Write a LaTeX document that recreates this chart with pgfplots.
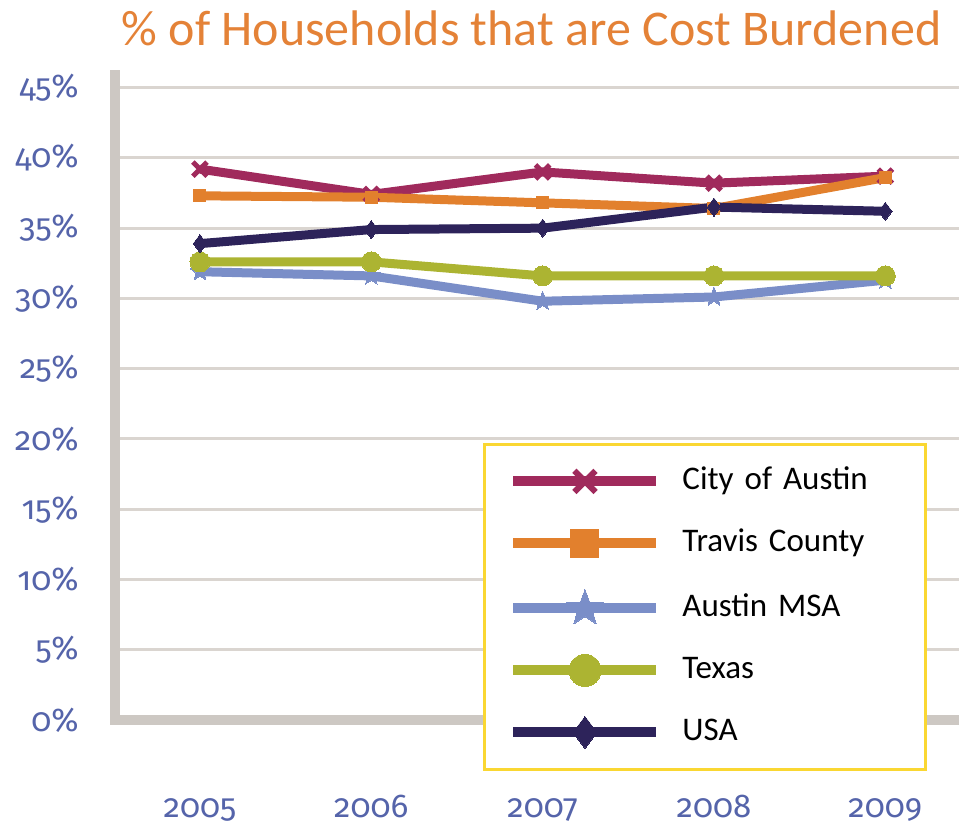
\documentclass[border=0pt]{standalone}
\usepackage{fontspec}
\setmainfont{Carlito}
\newfontfamily\numfont{Fira Sans}[Numbers=OldStyle]
\usepackage{pgfplots}
\pgfplotsset{compat=1.18}
\definecolor{cAustin}{RGB}{160,42,92}
\definecolor{cTravis}{RGB}{226,128,45}
\definecolor{cMSA}{RGB}{122,142,200}
\definecolor{cTexas}{RGB}{172,180,50}
\definecolor{cUSA}{RGB}{45,35,90}
\definecolor{titleorange}{RGB}{228,130,55}
\definecolor{tickblue}{RGB}{85,100,170}
\definecolor{axisgray}{RGB}{205,200,195}
\definecolor{gridgray}{RGB}{218,213,208}
\definecolor{legyellow}{RGB}{250,215,50}
\pgfdeclareplotmark{fstar}{%
  \pgfpathmoveto{\pgfpointpolar{90}{\pgfplotmarksize}}%
  \pgfpathlineto{\pgfpointpolar{126}{0.42\pgfplotmarksize}}%
  \pgfpathlineto{\pgfpointpolar{162}{\pgfplotmarksize}}%
  \pgfpathlineto{\pgfpointpolar{198}{0.42\pgfplotmarksize}}%
  \pgfpathlineto{\pgfpointpolar{234}{\pgfplotmarksize}}%
  \pgfpathlineto{\pgfpointpolar{270}{0.42\pgfplotmarksize}}%
  \pgfpathlineto{\pgfpointpolar{306}{\pgfplotmarksize}}%
  \pgfpathlineto{\pgfpointpolar{342}{0.42\pgfplotmarksize}}%
  \pgfpathlineto{\pgfpointpolar{18}{\pgfplotmarksize}}%
  \pgfpathlineto{\pgfpointpolar{54}{0.42\pgfplotmarksize}}%
  \pgfpathclose
  \pgfusepathqfillstroke}
\begin{document}
\begin{tikzpicture}[x=1pt,y=1pt]
\path[use as bounding box] (0,0) rectangle (479.5,414);
\begin{axis}[
  at={(57.5pt,54pt)}, anchor=south west,
  scale only axis, width=422pt, height=322.5pt,
  xmin=-0.496, xmax=4.43, ymin=0, ymax=45.9,
  axis x line=bottom, axis y line=left,
  axis line style={-, line width=5pt, color=axisgray, line cap=rect},
  xtick={0,1,2,3,4},
  xticklabels={2005,2006,2007,2008,2009},
  ytick={0,5,10,15,20,25,30,35,40,45},
  yticklabels={0\%,5\%,10\%,15\%,20\%,25\%,30\%,35\%,40\%,45\%},
  major tick length=0pt,
  ymajorgrids, grid style={line width=1.5pt, color=gridgray},
  tick label style={font=\numfont\fontsize{16.5}{19}\selectfont, text=tickblue, inner sep=0pt},
  yticklabel style={xshift=-18pt},
  xticklabel style={anchor=base, yshift=-49pt},
  every axis plot/.append style={line width=4.5pt, line join=round},
  legend image code/.code={\draw[mark repeat=2,mark phase=2,#1] plot coordinates {(0pt,0pt) (35.75pt,0pt) (71.5pt,0pt)};},
  legend style={at={(rel axis cs:0.436,0.4295)}, anchor=north west,
    draw=legyellow, line width=1.5pt, fill=white,
    inner xsep=12pt, inner ysep=10.5pt, row sep=15pt, column sep=10.5pt,
    font=\fontsize{16.5}{19}\selectfont,
    nodes={text height=12pt, text depth=4pt, inner sep=0pt, text width=109.5pt, align=left}},
  legend cell align=left,
  clip=false,
]
\addplot[cAustin, mark=x, mark size=5pt, mark options={line width=2.5pt}, forget plot]
  coordinates {(0,39.2) (1,37.4) (2,39.0) (3,38.2) (4,38.7)};
\addplot[cTravis, mark=square*, mark size=3pt, mark options={line width=0pt}, forget plot]
  coordinates {(0,37.3) (1,37.2) (2,36.8) (3,36.4) (4,38.6)};
\addplot[cMSA, mark=fstar, mark size=5pt, mark options={line width=0pt}, forget plot]
  coordinates {(0,31.9) (1,31.6) (2,29.8) (3,30.1) (4,31.3)};
\addplot[cTexas, mark=*, mark size=5pt, mark options={line width=0pt}, forget plot]
  coordinates {(0,32.6) (1,32.6) (2,31.6) (3,31.6) (4,31.6)};
\addplot[cUSA, mark=diamond*, mark size=4.5pt, mark options={line width=0pt}, forget plot]
  coordinates {(0,33.9) (1,34.9) (2,35.0) (3,36.5) (4,36.2)};
\addlegendimage{cAustin, line width=5pt, mark=x, mark size=7.5pt, mark options={line width=3pt}}
\addlegendentry{City of Austin}
\addlegendimage{cTravis, line width=5pt, mark=square*, mark size=7pt, mark options={line width=0pt}}
\addlegendentry{Travis County}
\addlegendimage{cMSA, line width=5pt, mark=fstar, mark size=9.5pt, mark options={line width=0pt}}
\addlegendentry{Austin MSA}
\addlegendimage{cTexas, line width=5pt, mark=*, mark size=8pt, mark options={line width=0pt}}
\addlegendentry{Texas}
\addlegendimage{cUSA, line width=5pt, mark=diamond*, mark size=8pt, mark options={line width=0pt}}
\addlegendentry{USA}
\end{axis}
\node[anchor=base, text=titleorange, font=\fontsize{25}{30}\selectfont, inner sep=0pt] at (265.75,391) {\% of Households that are Cost Burdened};
\end{tikzpicture}
\end{document}
